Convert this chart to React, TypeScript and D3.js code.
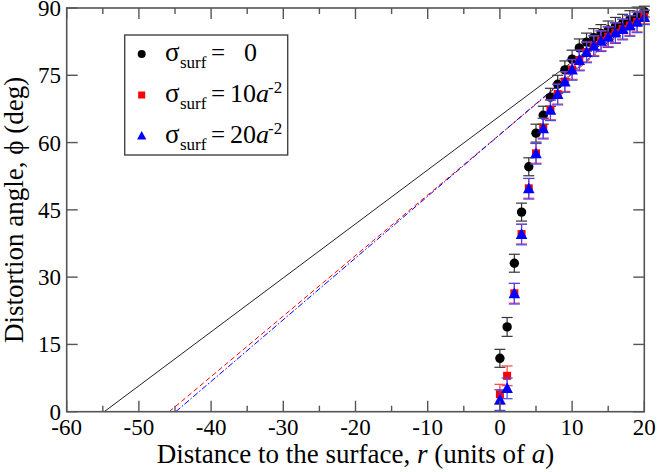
import React from "react";
import * as d3 from "d3";

const W = 657;
const H = 472;

// r values (units of a)
const rValues = [0, 1, 2, 3, 4, 5, 6, 7, 8, 9, 10, 11, 12, 13, 14, 15, 16, 17, 18, 19, 20];
// sigma_surf = 0
const phiSigma0 = [11.9, 18.9, 33.1, 44.5, 54.6, 62.1, 66.1, 70.1, 73.0, 76.2, 78.6, 81.1, 82.4, 83.4, 84.3, 85.1, 85.9, 86.6, 87.4, 88.2, 89.2];
const errSigma0 = [2.0, 2.1, 2.0, 2.0, 2.0, 2.0, 2.0, 2.0, 2.0, 2.0, 2.0, 2.0, 2.0, 2.0, 2.0, 2.0, 2.0, 2.0, 2.0, 2.0, 1.2];
// sigma_surf = 10 a^-2
const phiSigma10 = [3.9, 8.0, 26.4, 39.6, 49.8, 57.6, 63.2, 67.3, 70.8, 73.6, 76.3, 78.4, 80.2, 81.6, 82.7, 83.6, 84.5, 85.3, 86.1, 86.9, 88.0];
const errSigma10 = [2.2, 2.2, 2.2, 2.2, 2.2, 2.2, 2.2, 2.2, 2.2, 2.2, 2.2, 2.2, 2.2, 2.2, 2.2, 2.2, 2.2, 2.2, 2.2, 2.2, 1.5];
// sigma_surf = 20 a^-2
const phiSigma20 = [2.6, 5.2, 26.3, 39.5, 49.7, 57.5, 63.1, 67.2, 70.7, 73.5, 76.2, 78.3, 80.1, 81.5, 82.6, 83.5, 84.4, 85.2, 86.0, 86.8, 87.9];
const errSigma20 = [2.3, 2.3, 2.3, 2.3, 2.3, 2.3, 2.3, 2.3, 2.3, 2.3, 2.3, 2.3, 2.3, 2.3, 2.3, 2.3, 2.3, 2.3, 2.3, 2.3, 1.6];

// linear fits: [r, phi] endpoints
const fitSigma0 = [[-54.8, 0], [20, 90]];
const fitSigma10 = [[-45.8, 0], [20, 88.8]];
const fitSigma20 = [[-44.9, 0], [20, 89.3]];

const xMajorTicks = [-60, -50, -40, -30, -20, -10, 0, 10, 20];
const xMinorTicks = [-55, -45, -35, -25, -15, -5, 5, 15];
const yMajorTicks = [0, 15, 30, 45, 60, 75, 90];

const xLabel = "Distance to the surface, ";
const yLabel = "Distortion angle, ϕ (deg)";

const FONT = "'Liberation Serif', 'DejaVu Serif', serif";
const AXIS = "#555";

export default function App() {
  const left = 66.7, right = 644.3, top = 8, bottom = 411.7;
  const x = d3.scaleLinear().domain([-60, 20]).range([left, right]);
  const y = d3.scaleLinear().domain([0, 90]).range([bottom, top]);
  const line = d3.line<number[]>().x((d) => x(d[0])).y((d) => y(d[1]));

  const majorLen = 11, minorLen = 6;

  const errBars = (vals: number[], errs: number[], color: string, key: string) =>
    rValues.map((r, i) => {
      const cx = x(r);
      const y1 = y(vals[i] + errs[i]);
      const y2 = y(vals[i] - errs[i]);
      return (
        <g key={key + i} stroke={color} strokeWidth={1.2}>
          <line x1={cx} x2={cx} y1={y1} y2={y2} />
          <line x1={cx - 5.5} x2={cx + 5.5} y1={y1} y2={y1} />
          <line x1={cx - 5.5} x2={cx + 5.5} y1={y2} y2={y2} />
        </g>
      );
    });

  const tri = (cx: number, cy: number, s: number) =>
    `M${cx},${cy - s * 0.62} L${cx + s * 0.58},${cy + s * 0.45} L${cx - s * 0.58},${cy + s * 0.45} Z`;

  const rows = [61, 102, 143];

  return (
    <svg width={W} height={H} style={{ position: "absolute", left: 0, top: 0, background: "#fff" }} fontFamily={FONT}>
      <rect x={0} y={0} width={W} height={H} fill="#fff" />
      {/* fit lines */}
      <path d={line(fitSigma0 as number[][]) || ""} fill="none" stroke="#222" strokeWidth={1} />
      <path d={line(fitSigma10 as number[][]) || ""} fill="none" stroke="#f00" strokeWidth={1} strokeDasharray="5,3" />
      <path d={line(fitSigma20 as number[][]) || ""} fill="none" stroke="#00f" strokeWidth={1} strokeDasharray="6,2,1.5,2" />

      {/* sigma 0 */}
      {errBars(phiSigma0, errSigma0, "#333", "e0")}
      {rValues.map((r, i) => (
        <circle key={"c" + i} cx={x(r)} cy={y(phiSigma0[i])} r={4.7} fill="#000" />
      ))}
      {/* sigma 10 */}
      {errBars(phiSigma10, errSigma10, "#f44", "e10")}
      {rValues.map((r, i) => (
        <rect key={"s" + i} x={x(r) - 4} y={y(phiSigma10[i]) - 4} width={8} height={8} fill="#f00" />
      ))}
      {/* sigma 20 */}
      {errBars(phiSigma20, errSigma20, "#44f", "e20")}
      {rValues.map((r, i) => (
        <path key={"t" + i} d={tri(x(r), y(phiSigma20[i]), 10)} fill="#00f" />
      ))}

      {/* frame */}
      <rect x={left} y={top} width={right - left} height={bottom - top} fill="none" stroke={AXIS} strokeWidth={1.6} />
      {xMajorTicks.map((t) => (
        <g key={"xm" + t} stroke={AXIS} strokeWidth={1.4}>
          <line x1={x(t)} x2={x(t)} y1={bottom} y2={bottom - majorLen} />
          <line x1={x(t)} x2={x(t)} y1={top} y2={top + majorLen} />
        </g>
      ))}
      {xMinorTicks.map((t) => (
        <g key={"xn" + t} stroke={AXIS} strokeWidth={1.4}>
          <line x1={x(t)} x2={x(t)} y1={bottom} y2={bottom - minorLen} />
          <line x1={x(t)} x2={x(t)} y1={top} y2={top + minorLen} />
        </g>
      ))}
      {yMajorTicks.map((t) => (
        <g key={"ym" + t} stroke={AXIS} strokeWidth={1.4}>
          <line x1={left} x2={left + majorLen} y1={y(t)} y2={y(t)} />
          <line x1={right} x2={right - majorLen} y1={y(t)} y2={y(t)} />
        </g>
      ))}
      {xMajorTicks.map((t) => (
        <text key={"xl" + t} x={x(t)} y={435} textAnchor="middle" fontSize={23} fill="#000">
          {String(t)}
        </text>
      ))}
      {yMajorTicks.map((t) => (
        <text key={"yl" + t} x={61} y={y(t) + 8} textAnchor="end" fontSize={23} fill="#000">
          {String(t)}
        </text>
      ))}

      {/* axis titles */}
      <text x={(left + right) / 2} y={463} textAnchor="middle" fontSize={27} fill="#000">
        {xLabel}
        <tspan fontStyle="italic">r</tspan>
        {" (units of "}
        <tspan fontStyle="italic">a</tspan>
        {")"}
      </text>
      <text transform={`translate(23,${(top + bottom) / 2}) rotate(-90)`} textAnchor="middle" fontSize={27} fill="#000">
        {yLabel}
      </text>

      {/* legend */}
      <rect x={124.7} y={35} width={163} height={120} fill="#fff" stroke="#444" strokeWidth={1.4} />
      <circle cx={141.7} cy={rows[0] - 7} r={4} fill="#000" />
      <rect x={138.2} y={rows[1] - 7 - 3.5} width={7} height={7} fill="#f00" />
      <path d={tri(141.7, rows[2] - 7, 8)} fill="#00f" />
      {rows.map((b, i) => (
        <g key={"lg" + i} fill="#000">
          <text x={165} y={b} fontSize={27}>σ</text>
          <text x={180} y={b + 7} fontSize={17}>surf</text>
          <text x={211} y={b} fontSize={25}>=</text>
          {i === 0 ? (
            <text x={257} y={b} fontSize={26} textAnchor="end">0</text>
          ) : (
            <>
              <text x={230} y={b} fontSize={26}>
                {i === 1 ? "10" : "20"}
                <tspan fontStyle="italic">a</tspan>
              </text>
              <text x={268} y={b - 9} fontSize={17}>-2</text>
            </>
          )}
        </g>
      ))}
    </svg>
  );
}
